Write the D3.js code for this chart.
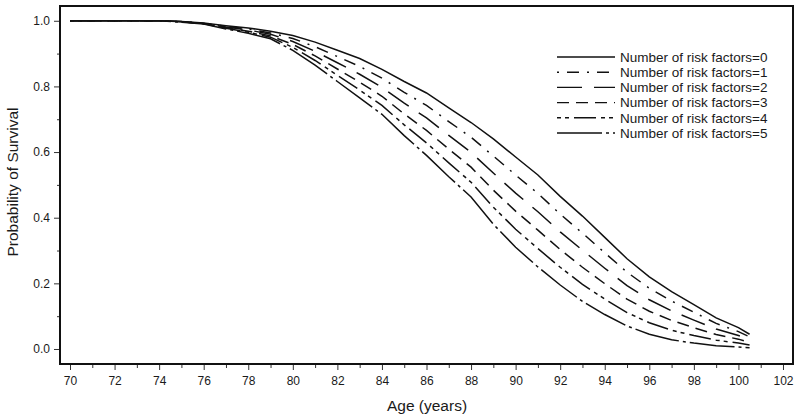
<!DOCTYPE html>
<html>
<head>
<meta charset="utf-8">
<script src="https://cdn.jsdelivr.net/npm/d3@7"></script>
<style>
  body { margin: 0; background: #fff; }
  text { font-family: "Liberation Sans", Arial, sans-serif; fill: #1a1a1a; }
</style>
</head>
<body>
<script>
const ages = [70, 72, 74, 75, 76, 77, 78, 79, 80, 81, 82, 83, 84, 85, 86, 87, 88, 89,
              90, 91, 92, 93, 94, 95, 96, 97, 98, 99, 100, 100.5];

const rf0 = [1, 1, 1, .998, .993, .985, .978, .968, .955, .935, .91, .885, .852, .815, .78, .735, .69, .64,
             .585, .53, .465, .405, .34, .275, .22, .175, .135, .095, .065, .045];
const rf1 = [1, 1, 1, .998, .992, .983, .975, .963, .946, .921, .891, .861, .825, .782, .742, .693, .645, .588,
             .53, .474, .411, .353, .293, .234, .185, .146, .112, .078, .053, .037];
const rf2 = [1, 1, 1, .997, .992, .981, .972, .959, .937, .907, .872, .837, .797, .749, .704, .651, .599, .536,
             .475, .418, .357, .301, .246, .193, .15, .116, .088, .061, .041, .029];
const rf3 = [1, 1, 1, .997, .991, .979, .968, .954, .928, .893, .853, .813, .77, .716, .666, .609, .554, .484,
             .42, .362, .303, .249, .199, .152, .115, .087, .065, .044, .03, .02];
const rf4 = [1, 1, 1, .997, .991, .977, .965, .95, .919, .879, .834, .789, .742, .683, .628, .567, .508, .432,
             .365, .306, .249, .197, .152, .111, .08, .057, .041, .027, .018, .012];
const rf5 = [1, 1, 1, .996, .99, .975, .962, .945, .91, .865, .815, .765, .715, .65, .59, .525, .463, .38,
             .31, .25, .195, .145, .105, .07, .045, .028, .018, .01, .006, .004];

const seriesNames = ["Number of risk factors=0", "Number of risk factors=1", "Number of risk factors=2",
                     "Number of risk factors=3", "Number of risk factors=4", "Number of risk factors=5"];
const seriesValues = [rf0, rf1, rf2, rf3, rf4, rf5];
const dashes = ["none", "2,8,12,8", "25,12", "12,7", "4,4,4,5,22,5", "45,4,3,4"];

const xTicks = d3.range(70, 103, 2);
const yTicks = [0, 0.2, 0.4, 0.6, 0.8, 1.0];

const width = 800, height = 420;
const frame = {left: 60, right: 793, top: 6, bottom: 364};

const svg = d3.select("body").append("svg")
  .attr("width", width)
  .attr("height", height);

const x = d3.scaleLinear().domain([69.551, 102.449]).range([frame.left, frame.right]);
const y = d3.scaleLinear().domain([-0.0457, 1.045]).range([frame.bottom, frame.top]);

// x axis: major ticks every 2 years, minor on odd years
svg.append("g")
  .attr("transform", "translate(0," + frame.bottom + ")")
  .call(d3.axisBottom(x).tickValues(d3.range(71, 103, 2)).tickSize(4).tickFormat(""))
  .call(g => g.select(".domain").remove());

svg.append("g")
  .attr("transform", "translate(0," + frame.bottom + ")")
  .call(d3.axisBottom(x).tickValues(xTicks).tickSize(6).tickPadding(6).tickFormat(d3.format("d")))
  .call(g => g.select(".domain").remove())
  .call(g => g.selectAll("text").style("font-size", "12px").attr("fill", "#1a1a1a"));

// y axis
svg.append("g")
  .attr("transform", "translate(" + frame.left + ",0)")
  .call(d3.axisLeft(y).tickValues(d3.range(0.1, 1.0, 0.2)).tickSize(3).tickFormat(""))
  .call(g => g.select(".domain").remove());

svg.append("g")
  .attr("transform", "translate(" + frame.left + ",0)")
  .call(d3.axisLeft(y).tickValues(yTicks).tickSize(6).tickPadding(4).tickFormat(d3.format(".1f")))
  .call(g => g.select(".domain").remove())
  .call(g => g.selectAll("text").style("font-size", "12px").attr("fill", "#1a1a1a"));

svg.selectAll(".tick line").attr("stroke", "#333");

// frame
svg.append("rect")
  .attr("x", frame.left)
  .attr("y", frame.top)
  .attr("width", frame.right - frame.left)
  .attr("height", frame.bottom - frame.top)
  .attr("fill", "none")
  .attr("stroke", "#111")
  .attr("stroke-width", 2);

// curves
const line = d3.line()
  .x(d => x(d[0]))
  .y(d => y(d[1]));

svg.append("g")
  .selectAll("path")
  .data(seriesValues)
  .enter()
  .append("path")
  .attr("d", vals => line(ages.map((a, i) => [a, vals[i]])))
  .attr("fill", "none")
  .attr("stroke", "#111")
  .attr("stroke-width", 1.5)
  .attr("stroke-dasharray", (d, i) => dashes[i]);

// legend
const legend = svg.append("g")
  .attr("transform", "translate(557,57)");

const rows = legend.selectAll("g")
  .data(seriesNames)
  .enter()
  .append("g")
  .attr("transform", (d, i) => "translate(0," + (i * 15.2) + ")");

rows.append("line")
  .attr("x1", 0)
  .attr("x2", 58)
  .attr("stroke", "#111")
  .attr("stroke-width", 1.4)
  .attr("stroke-dasharray", (d, i) => dashes[i]);

rows.append("text")
  .text(d => d)
  .attr("x", 63)
  .attr("dy", "0.36em")
  .style("font-size", "13.5px");

// axis titles
svg.append("text")
  .text("Age (years)")
  .attr("x", 427)
  .attr("y", 411)
  .attr("text-anchor", "middle")
  .style("font-size", "15.5px");

svg.append("text")
  .text("Probability of Survival")
  .attr("transform", "translate(18,182) rotate(-90)")
  .attr("text-anchor", "middle")
  .style("font-size", "15.5px");
</script>
</body>
</html>
